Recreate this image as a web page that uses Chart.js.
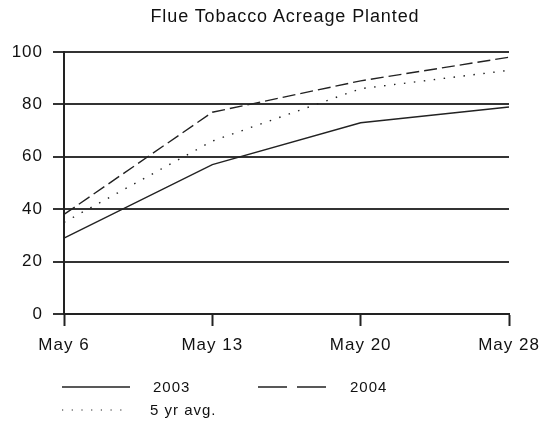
<!DOCTYPE html>
<html>
<head>
<meta charset="utf-8">
<script src="https://cdn.jsdelivr.net/npm/chart.js@4.4.0/dist/chart.umd.min.js"></script>
<style>
  html, body { margin: 0; padding: 0; background: #fff; }
  #wrap { position: relative; width: 545px; height: 435px; font-family: Arial, 'Liberation Sans', sans-serif; color: #111; }
  #chart { position: absolute; left: 0; top: 0; }
  #title { position: absolute; left: 0; width: 570px; top: 6px; text-align: center; font-size: 18px; letter-spacing: 0.9px; }
  .lg { position: absolute; font-size: 15px; letter-spacing: 1px; line-height: 18px; }
  .lgline { position: absolute; }
</style>
</head>
<body>
<div id="wrap">
  <canvas id="chart" width="545" height="435"></canvas>
  <div id="title">Flue Tobacco Acreage Planted</div>
  <div id="legend"></div>
</div>
<script>
// data
const dates = ['May 6', 'May 13', 'May 20', 'May 28'];
const y2003 = [29, 57, 73, 79];
const y2004 = [38, 77, 89, 98];
const avg5 = [35, 66, 86, 93];
const yTicks = [0, 20, 40, 60, 80, 100];

const series = [
  { label: '2003', data: y2003, dash: [] },
  { label: '2004', data: y2004, dash: [13, 5] },
  { label: '5 yr avg.', data: avg5, dash: [1.5, 8.5] }
];

Chart.defaults.font.family = "Arial, 'Liberation Sans', sans-serif";
Chart.defaults.color = '#111';

// old-style wide tick text
const spacing = {
  id: 'spacing',
  beforeDraw(chart) { chart.ctx.letterSpacing = '1px'; }
};

const ctx = document.getElementById('chart').getContext('2d');
const chart = new Chart(ctx, {
  type: 'line',
  data: {
    labels: dates,
    datasets: series.map(s => ({
      label: s.label,
      data: s.data,
      borderColor: '#222',
      borderWidth: 1.4,
      borderDash: s.dash,
      pointRadius: 0,
      tension: 0,
      fill: false
    }))
  },
  options: {
    responsive: false,
    animation: false,
    layout: { padding: { top: 52, right: 36, bottom: 0, left: 0 } },
    plugins: {
      legend: { display: false },
      title: { display: false },
      tooltip: { enabled: false }
    },
    scales: {
      x: {
        offset: false,
        afterFit: function(scale) {
          scale.height = 121;
          scale.paddingLeft = 0;
          scale.paddingRight = 0;
        },
        grid: {
          drawOnChartArea: false,
          drawTicks: true,
          tickLength: 12,
          tickWidth: 2,
          tickColor: '#222'
        },
        border: { display: true, color: '#222', width: 2 },
        ticks: {
          autoSkip: false,
          maxRotation: 0,
          padding: 9,
          font: { size: 17 },
          color: '#111'
        }
      },
      y: {
        min: 0,
        max: 100,
        afterFit: function(scale) { scale.width = 64; },
        afterBuildTicks: function(scale) {
          scale.ticks = yTicks.map(v => ({ value: v }));
        },
        grid: {
          color: '#333',
          lineWidth: 2,
          tickLength: 11,
          tickColor: '#333'
        },
        border: { display: true, color: '#222', width: 2 },
        ticks: {
          padding: 10,
          font: { size: 17 },
          color: '#111'
        }
      }
    }
  },
  plugins: [spacing]
});

// legend drawn as html under the chart
const legendSpots = [
  { x: 62, y: 387, w: 68, tx: 153 },
  { x: 258, y: 387, w: 68, tx: 350 },
  { x: 62, y: 410, w: 64, tx: 150 }
];
const legendEl = document.getElementById('legend');
series.forEach((s, i) => {
  const p = legendSpots[i];
  const dash = i === 1 ? '29 10' : (i === 2 ? '1.2 8.5' : 'none');
  legendEl.insertAdjacentHTML('beforeend',
    `<svg class="lgline" width="${p.w}" height="4" style="left:${p.x}px;top:${p.y - 2}px">` +
    `<line x1="0" y1="2" x2="${p.w}" y2="2" stroke="#222" stroke-width="${i === 2 ? 1.2 : 1.6}" stroke-dasharray="${dash}"/></svg>`);
  const t = document.createElement('div');
  t.className = 'lg';
  t.style.left = p.tx + 'px';
  t.style.top = (p.y - 9) + 'px';
  t.textContent = s.label;
  legendEl.appendChild(t);
});
</script>
</body>
</html>
